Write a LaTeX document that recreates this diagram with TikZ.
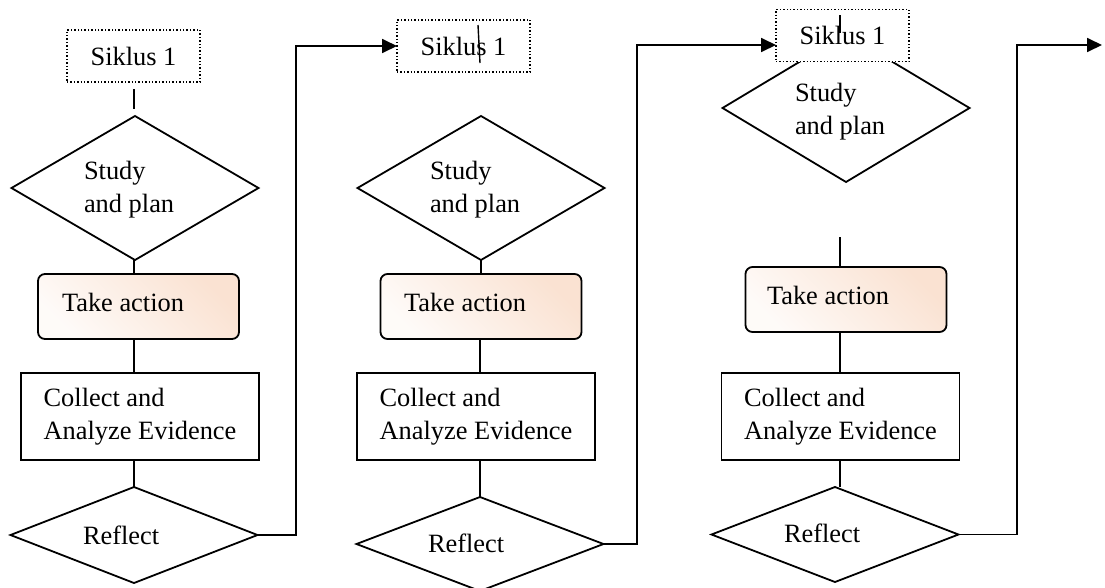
\documentclass[tikz,border=0pt]{standalone}
\usepackage{fontspec}
\setmainfont{Liberation Serif}
\usetikzlibrary{shapes.geometric,arrows.meta}
\definecolor{peach}{RGB}{250,226,210}
\begin{document}
\begin{tikzpicture}[x=1pt,y=-1pt,
  every node/.style={font=\fontsize{26.4}{33}\selectfont, inner sep=0pt, outer sep=0pt},
  line/.style={line width=1.8pt},
  cyclebox/.style={draw, dotted, line width=1.4pt, fill=white, minimum width=133pt, minimum height=52pt},
  plandiamond/.style={draw, diamond, line width=1.8pt, fill=white, minimum width=247pt, minimum height=144pt},
  reflectdiamond/.style={draw, diamond, line width=1.8pt, minimum width=247pt, minimum height=96pt},
  actionbox/.style={draw, line width=1.8pt, rounded corners=7pt, minimum width=201pt, minimum height=65pt,
    top color=peach, bottom color=peach!15!white, shading angle=-45},
  evidencebox/.style={draw, line width=1.8pt, minimum width=238pt, minimum height=87pt, align=left},
  lbl/.style={anchor=west, align=left},
  flow/.style={line, -{Triangle[length=15pt,width=14pt]}}
]
\useasboundingbox (0,0) rectangle (1105,587);

% ---------- first cycle ----------
\node[plandiamond] (d1) at (135,188) {};
\node[cyclebox] (s1) at (133.5,56) {Siklus 1};
\node[actionbox] (t1) at (138.5,306.5) {};
\node[evidencebox] (c1) at (140,416.5) {Collect and\\Analyze Evidence};
\node[reflectdiamond] (r1) at (134,535) {};
\node[lbl] (p1) at (84,190) {Study\\and plan};
\node[lbl] (a1) at (62,302) {Take action};
\node[lbl] (f1) at (83,535) {Reflect};

\coordinate (u1) at (134,89);
\draw[line] (u1) -- ++(0,20);
\draw[line] (u1 |- d1.south) -- (u1 |- t1.north);
\draw[line] (u1 |- t1.south) -- (u1 |- c1.north);
\draw[line] (u1 |- c1.south) -- (u1 |- r1.north);

% ---------- second cycle ----------
\node[plandiamond] (d2) at (481,188) {};
\node[cyclebox] (s2) at (463.5,46) {Siklus 1};
\node[actionbox] (t2) at (481,306.5) {};
\node[evidencebox] (c2) at (476,416.5) {Collect and\\Analyze Evidence};
\node[reflectdiamond, minimum height=94pt] (r2) at (480,544) {};
\node[lbl] (p2) at (430,190) {Study\\and plan};
\node[lbl] (a2) at (404,302) {Take action};
\node[lbl] (f2) at (428,543) {Reflect};

\coordinate (g2a) at (478,25);
\coordinate (g2b) at (480,63);
\draw[line, line width=1.4pt] (g2a) -- (g2b);
\draw[line] (d2.south) -- (d2.south |- t2.north);
\coordinate (u2) at (480,0);
\draw[line] (u2 |- t2.south) -- (u2 |- c2.north);
\draw[line] (u2 |- c2.south) -- (u2 |- r2.north);

% ---------- third cycle ----------
\node[plandiamond, minimum height=148pt] (d3) at (846,108) {};
\node[cyclebox] (s3) at (842.5,35.5) {Siklus 1};
\node[actionbox] (t3) at (846,299.5) {};
\node[evidencebox] (c3) at (840.5,416.5) {Collect and\\Analyze Evidence};
\node[reflectdiamond, minimum height=95pt] (r3) at (835,534.5) {};
\node[lbl] (p3) at (795,112) {Study\\and plan};
\node[lbl] (a3) at (767,295) {Take action};
\node[lbl] (f3) at (784,533) {Reflect};

\coordinate (g3a) at (840,15);
\coordinate (g3b) at (840,33);
\draw[line, line width=1.4pt] (g3a) -- (g3b);
\coordinate (u3) at (840,237);
\draw[line] (u3) -- (u3 |- t3.north);
\draw[line] (u3 |- t3.south) -- (u3 |- c3.north);
\draw[line] (u3 |- c3.south) -- (u3 |- r3.north);

% ---------- links between cycles ----------
\coordinate (k1) at (296,535);
\coordinate (k2) at (637,544);
\coordinate (k3) at (1017,534.5);
\coordinate (e3) at (1102,45);
\draw[flow] (r1.east) -- (k1) |- (s2.west);
\draw[flow] (r2.east) -- (k2) |- ([yshift=-9.5pt]s3.west);
\draw[flow] (r3.east) -- (k3) |- (e3);
\end{tikzpicture}
\end{document}
